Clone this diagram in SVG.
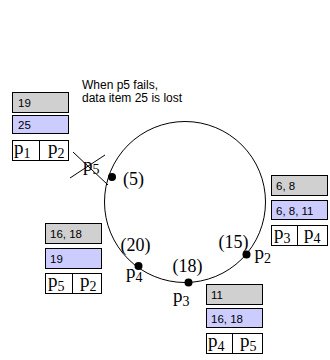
<svg xmlns="http://www.w3.org/2000/svg" width="330" height="360" viewBox="0 0 330 360">
<style>
.g{fill:#d0d0d0;stroke:#000;stroke-width:1}
.b{fill:#ccccff;stroke:#000;stroke-width:1}
.w{fill:#fff;stroke:#000;stroke-width:1}
.t{font-family:"Liberation Sans",Arial,sans-serif;font-size:11.5px;fill:#000}
.n{font-family:"Liberation Sans",Arial,sans-serif;font-size:12px;fill:#000}
.s{font-family:"Liberation Serif","Times New Roman",serif;font-size:19px;fill:#000}
.c{font-family:"Liberation Serif","Times New Roman",serif;font-size:18px;fill:#000}
.sub{font-size:14px}
.dot{fill:#000}
</style>
<rect width="330" height="360" fill="#fff"/>
<g id="ring">
<circle cx="185" cy="202" r="80.5" fill="none" stroke="#000" stroke-width="1"/>
</g>
<g id="note">
<text class="n" x="82" y="89">When p5 fails,</text>
<text class="n" x="82" y="102">data item 25 is lost</text>
</g>
<g id="node-p5">
<circle class="dot" cx="112" cy="177" r="4"/>
<text class="c" x="123" y="185">(5)</text>
<text class="s" x="83" y="171" font-size="18">p<tspan class="sub" dy="3">5</tspan></text>
<line x1="73" y1="152" x2="108" y2="185" stroke="#000"/>
<line x1="70" y1="178" x2="105" y2="155" stroke="#000"/>
</g>
<g id="node-p2">
<circle class="dot" cx="246.5" cy="254.5" r="4"/>
<text class="c" x="218.5" y="248">(15)</text>
<text class="s" x="254.5" y="259" font-size="18">p<tspan class="sub" dy="4">2</tspan></text>
</g>
<g id="node-p3">
<circle class="dot" cx="188.5" cy="282.5" r="4"/>
<text class="c" x="172.5" y="272">(18)</text>
<text class="s" x="173" y="302" font-size="18">p<tspan class="sub" dy="4">3</tspan></text>
</g>
<g id="node-p4">
<circle class="dot" cx="138.5" cy="266" r="4"/>
<text class="c" x="120.5" y="251">(20)</text>
<text class="s" x="126" y="278" font-size="18">p<tspan class="sub" dy="4">4</tspan></text>
</g>
<g id="table-p1">
<rect class="g" x="12.5" y="92.5" width="56" height="20"/>
<text class="t" x="18" y="106.5">19</text>
<rect class="b" x="12.5" y="115.5" width="56" height="18"/>
<text class="t" x="18" y="129">25</text>
<rect class="w" x="12.5" y="140.5" width="56" height="20"/>
<line x1="39.5" y1="140.5" x2="39.5" y2="160.5" stroke="#000"/>
<text class="s" x="14" y="154">p<tspan class="sub" dy="4">1</tspan></text>
<text class="s" x="48" y="154">p<tspan class="sub" dy="4">2</tspan></text>
</g>
<g id="table-p2">
<rect class="g" x="271.5" y="175.5" width="56" height="20"/>
<text class="t" x="276" y="189.5">6, 8</text>
<rect class="b" x="271.5" y="200.5" width="56" height="19"/>
<text class="t" x="276" y="214.5">6, 8, 11</text>
<rect class="w" x="271.5" y="225.5" width="56" height="20"/>
<line x1="297.5" y1="225.5" x2="297.5" y2="245.5" stroke="#000"/>
<text class="s" x="274" y="239">p<tspan class="sub" dy="4">3</tspan></text>
<text class="s" x="304" y="239">p<tspan class="sub" dy="4">4</tspan></text>
</g>
<g id="table-p4">
<rect class="g" x="45.5" y="223.5" width="56" height="20"/>
<text class="t" x="50" y="237.5">16, 18</text>
<rect class="b" x="45.5" y="248.5" width="56" height="20"/>
<text class="t" x="50" y="262.5">19</text>
<rect class="w" x="45.5" y="273.5" width="56" height="20"/>
<line x1="72.5" y1="273.5" x2="72.5" y2="293.5" stroke="#000"/>
<text class="s" x="48" y="287">p<tspan class="sub" dy="4">5</tspan></text>
<text class="s" x="80" y="287">p<tspan class="sub" dy="4">2</tspan></text>
</g>
<g id="table-p3">
<rect class="g" x="206.5" y="284.5" width="56" height="20"/>
<text class="t" x="211" y="298.5">11</text>
<rect class="b" x="206.5" y="308.5" width="56" height="19"/>
<text class="t" x="211" y="322.5">16, 18</text>
<rect class="w" x="206.5" y="333.5" width="56" height="20"/>
<line x1="232.5" y1="333.5" x2="232.5" y2="353.5" stroke="#000"/>
<text class="s" x="208" y="347">p<tspan class="sub" dy="4">4</tspan></text>
<text class="s" x="240" y="347">p<tspan class="sub" dy="4">5</tspan></text>
</g>
<g id="connectors"></g>
</svg>
